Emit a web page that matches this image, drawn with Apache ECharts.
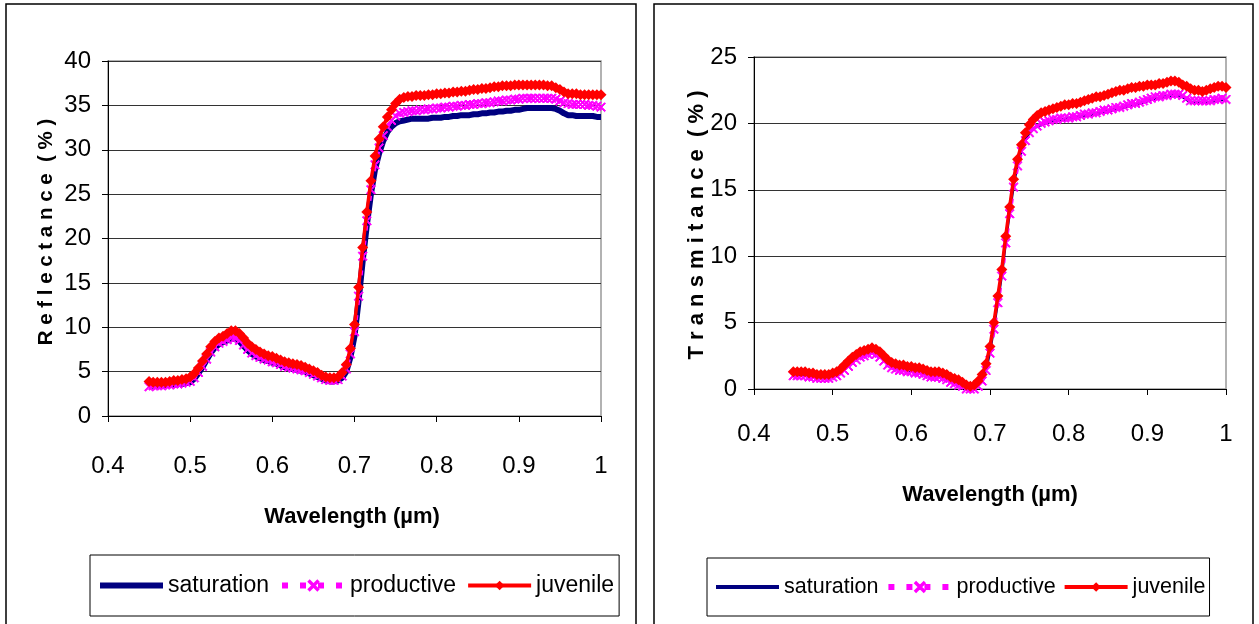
<!DOCTYPE html>
<html>
<head>
<meta charset="utf-8">
<script src="https://cdn.jsdelivr.net/npm/echarts@6/dist/echarts.min.js"></script>
<style>
html,body{margin:0;padding:0;background:#fff;}
#chart{width:1259px;height:624px;}
</style>
</head>
<body>
<div id="chart"></div>
<script>
// Wavelength samples (µm)
var wavelength = [
0.450,0.455,0.460,0.465,0.470,0.475,0.480,0.485,0.490,0.495,
0.500,0.505,0.510,0.515,0.520,0.525,0.530,0.535,0.540,0.545,
0.550,0.555,0.560,0.565,0.570,0.575,0.580,0.585,0.590,0.595,
0.600,0.605,0.610,0.615,0.620,0.625,0.630,0.635,0.640,0.645,
0.650,0.655,0.660,0.665,0.670,0.675,0.680,0.685,0.690,0.695,
0.700,0.705,0.710,0.715,0.720,0.725,0.730,0.735,0.740,0.745,
0.750,0.755,0.760,0.765,0.770,0.775,0.780,0.785,0.790,0.795,
0.800,0.805,0.810,0.815,0.820,0.825,0.830,0.835,0.840,0.845,
0.850,0.855,0.860,0.865,0.870,0.875,0.880,0.885,0.890,0.895,
0.900,0.905,0.910,0.915,0.920,0.925,0.930,0.935,0.940,0.945,
0.950,0.955,0.960,0.965,0.970,0.975,0.980,0.985,0.990,0.995,
1.000];

var seriesNames = ['saturation', 'productive', 'juvenile'];

// Reflectance (%)
var reflSaturation = [
3.4,3.4,3.4,3.4,3.5,3.5,3.5,3.6,3.6,3.7,
3.8,4.2,4.8,5.5,6.3,7.1,7.7,8.1,8.3,8.5,
8.7,8.7,8.4,7.9,7.4,7.0,6.7,6.5,6.3,6.2,
6.0,5.9,5.7,5.5,5.4,5.3,5.2,5.1,5.0,4.8,
4.6,4.4,4.2,4.0,3.9,3.9,4.0,4.3,5.0,6.6,
9.0,13.0,17.5,21.5,25.0,27.8,29.6,31.0,32.0,32.6,
33.0,33.2,33.3,33.4,33.5,33.5,33.5,33.5,33.5,33.6,
33.6,33.6,33.7,33.7,33.8,33.8,33.9,33.9,33.9,34.0,
34.0,34.1,34.1,34.2,34.2,34.3,34.3,34.4,34.4,34.5,
34.5,34.6,34.7,34.7,34.7,34.7,34.7,34.7,34.7,34.6,
34.4,34.1,33.9,33.9,33.8,33.8,33.8,33.8,33.8,33.7,
33.7];
var reflProductive = [
3.3,3.4,3.4,3.4,3.5,3.5,3.6,3.6,3.7,3.8,
3.9,4.3,4.9,5.6,6.4,7.2,7.8,8.2,8.4,8.6,
8.8,8.8,8.5,8.0,7.5,7.1,6.8,6.6,6.4,6.3,
6.1,6.0,5.8,5.6,5.5,5.4,5.3,5.2,5.1,4.9,
4.7,4.5,4.3,4.1,4.0,4.0,4.1,4.5,5.3,7.0,
9.5,13.5,18.0,22.0,25.5,28.3,30.2,31.6,32.6,33.3,
33.8,34.1,34.2,34.3,34.4,34.4,34.5,34.5,34.6,34.6,
34.7,34.7,34.8,34.8,34.9,34.9,35.0,35.0,35.1,35.1,
35.2,35.2,35.3,35.3,35.4,35.5,35.5,35.6,35.6,35.7,
35.7,35.8,35.8,35.8,35.8,35.8,35.8,35.8,35.8,35.7,
35.5,35.3,35.2,35.1,35.1,35.1,35.1,35.0,35.0,34.9,
34.8];
var reflJuvenile = [
3.9,3.8,3.8,3.8,3.8,3.9,4.0,4.0,4.1,4.2,
4.4,4.8,5.4,6.2,7.0,7.8,8.4,8.8,9.0,9.3,
9.6,9.6,9.3,8.8,8.2,7.8,7.5,7.2,7.0,6.8,
6.7,6.5,6.3,6.1,6.0,5.9,5.8,5.7,5.5,5.3,
5.1,4.9,4.6,4.4,4.3,4.3,4.4,4.9,5.8,7.6,
10.3,14.5,19.0,23.0,26.5,29.3,31.2,32.6,33.7,34.5,
35.2,35.7,35.9,36.0,36.0,36.1,36.1,36.1,36.2,36.2,
36.3,36.3,36.4,36.4,36.5,36.5,36.6,36.6,36.7,36.8,
36.8,36.9,36.9,37.0,37.1,37.1,37.2,37.2,37.2,37.3,
37.3,37.3,37.3,37.3,37.3,37.3,37.3,37.2,37.2,37.0,
36.8,36.5,36.3,36.3,36.3,36.2,36.2,36.2,36.2,36.2,
36.2];

// Transmitance (%)
var transSaturation = [
1.1,1.1,1.1,1.1,1.0,1.0,0.9,0.9,0.9,0.9,
1.0,1.1,1.3,1.5,1.8,2.1,2.3,2.5,2.6,2.7,
2.8,2.7,2.5,2.2,1.9,1.7,1.6,1.5,1.5,1.4,
1.4,1.3,1.3,1.2,1.1,1.0,1.0,1.0,0.9,0.8,
0.6,0.5,0.4,0.2,0.1,0.0,0.1,0.3,0.7,1.5,
2.9,4.7,6.7,8.7,11.2,13.4,15.4,17.0,18.0,18.8,
19.3,19.6,19.8,19.9,20.0,20.1,20.2,20.2,20.3,20.3,
20.4,20.4,20.5,20.5,20.6,20.6,20.7,20.7,20.8,20.9,
20.9,21.0,21.1,21.1,21.2,21.3,21.4,21.4,21.5,21.6,
21.7,21.8,21.9,21.9,22.0,22.0,22.1,22.1,22.1,22.0,
21.8,21.6,21.6,21.6,21.6,21.6,21.6,21.7,21.7,21.8,
21.7];
var transProductive = [
1.0,1.0,1.0,1.0,0.9,0.9,0.8,0.8,0.8,0.8,
0.9,1.0,1.2,1.4,1.7,2.0,2.2,2.4,2.5,2.6,
2.7,2.6,2.4,2.1,1.8,1.6,1.5,1.4,1.4,1.3,
1.3,1.2,1.2,1.1,1.0,0.9,0.9,0.9,0.8,0.7,
0.5,0.4,0.3,0.2,0.0,0.0,0.0,0.2,0.6,1.4,
2.7,4.5,6.5,8.5,11.0,13.2,15.2,16.8,17.9,18.7,
19.3,19.6,19.8,20.0,20.1,20.2,20.3,20.3,20.4,20.4,
20.4,20.5,20.5,20.6,20.7,20.7,20.8,20.8,20.9,21.0,
21.0,21.1,21.2,21.2,21.3,21.4,21.5,21.5,21.6,21.7,
21.8,21.9,22.0,22.0,22.1,22.1,22.2,22.2,22.2,22.1,
21.9,21.7,21.7,21.7,21.7,21.7,21.7,21.8,21.8,21.9,
21.8];
var transJuvenile = [
1.3,1.3,1.3,1.3,1.2,1.2,1.1,1.1,1.1,1.1,
1.2,1.3,1.5,1.8,2.1,2.4,2.6,2.8,2.9,3.0,
3.1,3.0,2.8,2.5,2.2,2.0,1.9,1.8,1.8,1.7,
1.7,1.6,1.6,1.5,1.4,1.3,1.3,1.3,1.2,1.1,
0.9,0.8,0.7,0.5,0.3,0.2,0.3,0.6,1.1,1.9,
3.2,5.0,7.0,9.0,11.5,13.7,15.8,17.3,18.4,19.3,
19.9,20.3,20.6,20.8,20.9,21.0,21.1,21.2,21.3,21.4,
21.4,21.5,21.5,21.6,21.7,21.8,21.9,22.0,22.0,22.1,
22.2,22.3,22.4,22.5,22.5,22.6,22.7,22.7,22.8,22.8,
22.9,22.9,22.9,23.0,23.0,23.1,23.2,23.2,23.1,22.9,
22.8,22.6,22.5,22.5,22.4,22.5,22.6,22.7,22.8,22.8,
22.7];

var xTicks = [0.4, 0.5, 0.6, 0.7, 0.8, 0.9, 1];
var reflTicks = [0, 5, 10, 15, 20, 25, 30, 35, 40];
var transTicks = [0, 5, 10, 15, 20, 25];

var FONT = '"Liberation Sans", Arial, sans-serif';
var xMarker = 'path://M0,1L1,0L5,4L9,0L10,1L6,5L10,9L9,10L5,6L1,10L0,9L4,5Z';

function pairs(vals){ return wavelength.map(function(w,i){ return [w, vals[i]]; }); }

function makeSeries(idx, sat, prod, juv, satWidth){
  return [
    { name: seriesNames[0], type:'line', xAxisIndex:idx, yAxisIndex:idx, data:pairs(sat),
      symbol:'none', color:'#000080', lineStyle:{color:'#000080', width:satWidth}, z:2 },
    { name: seriesNames[1], type:'line', xAxisIndex:idx, yAxisIndex:idx, data:pairs(prod),
      symbol:xMarker, symbolSize:9, showSymbol:true, showAllSymbol:true, color:'#FF00FF',
      itemStyle:{color:'#FF00FF', borderColor:'#FF00FF', borderWidth:1},
      lineStyle:{color:'#FF00FF', width:4, type:[5,10]}, z:3 },
    { name: seriesNames[2], type:'line', xAxisIndex:idx, yAxisIndex:idx, data:pairs(juv),
      symbol:'diamond', symbolSize:11, showSymbol:true, showAllSymbol:true, color:'#FF0000',
      itemStyle:{color:'#FF0000'}, lineStyle:{color:'#FF0000', width:3.5}, z:4 }
  ];
}

function xAxisCfg(idx, margin){
  return { type:'value', gridIndex:idx, min:xTicks[0], max:xTicks[xTicks.length-1], interval:0.1,
    axisLine:{show:true, onZero:false, lineStyle:{color:'#000', width:1}},
    axisTick:{show:true, inside:false, length:6, lineStyle:{color:'#000'}},
    axisLabel:{margin:margin, color:'#000', fontFamily:FONT, fontSize:24,
      formatter:function(v){ return String(Math.round(v*10)/10); }},
    splitLine:{show:false} };
}
function yAxisCfg(idx, ticks){
  return { type:'value', gridIndex:idx, min:ticks[0], max:ticks[ticks.length-1], interval:5,
    axisLine:{show:true, lineStyle:{color:'#000', width:1}},
    axisTick:{show:true, inside:false, length:6, lineStyle:{color:'#000'}},
    axisLabel:{margin:17, color:'#000', fontFamily:FONT, fontSize:24},
    splitLine:{show:true, lineStyle:{color:'#333', width:1}} };
}

function legendData(satW){
  return [
    {name:seriesNames[0], itemStyle:{opacity:0}, lineStyle:{width:satW}},
    {name:seriesNames[1], lineStyle:{width:6, type:[6,12]}},
    {name:seriesNames[2], lineStyle:{width:4}}
  ];
}

var chart = echarts.init(document.getElementById('chart'), null, {renderer:'canvas'});
var option = {
  backgroundColor:'#ffffff',
  animation:false,
  grid:[
    {left:108, top:61, width:493, height:355, show:true, borderColor:'#999', borderWidth:1.5, backgroundColor:'transparent'},
    {left:754, top:57, width:472, height:332, show:true, borderColor:'#999', borderWidth:1.5, backgroundColor:'transparent'}
  ],
  xAxis:[ xAxisCfg(0, 38), xAxisCfg(1, 33) ],
  yAxis:[ yAxisCfg(0, reflTicks), yAxisCfg(1, transTicks) ],
  legend:[
    { data:legendData(6), left:90, top:555, width:600, orient:'horizontal', itemWidth:63, itemHeight:12, itemGap:10,
      padding:[16,5,16,7], borderColor:'#000', borderWidth:1, backgroundColor:'#fff',
      textStyle:{fontFamily:FONT, fontSize:23, lineHeight:29, color:'#000'},
      selectedMode:false },
    { data:legendData(4), left:707, top:558, width:560, orient:'horizontal', itemWidth:63, itemHeight:12, itemGap:7,
      padding:[15,4,15,7], borderColor:'#000', borderWidth:1, backgroundColor:'#fff',
      textStyle:{fontFamily:FONT, fontSize:21.5, lineHeight:28, color:'#000'},
      selectedMode:false }
  ],
  series: makeSeries(0, reflSaturation, reflProductive, reflJuvenile, 6)
    .concat(makeSeries(1, transSaturation, transProductive, transJuvenile, 3)),
  graphic:[
    {type:'rect', shape:{x:6, y:4, width:630, height:660}, style:{fill:'none', stroke:'#000', lineWidth:1.5}, silent:true},
    {type:'rect', shape:{x:654, y:4, width:599, height:660}, style:{fill:'none', stroke:'#000', lineWidth:1.5}, silent:true},
    {type:'text', x:46, y:232, rotation:Math.PI/2,
      style:{text:'R e f l e c t a n c e  ( % )', font:'bold 20.5px ' + FONT, fill:'#000', align:'center', verticalAlign:'middle'}},
    {type:'text', x:697, y:225, rotation:Math.PI/2,
      style:{text:'T r a n s m i t a n c e  ( % )', font:'bold 22px ' + FONT, fill:'#000', align:'center', verticalAlign:'middle'}},
    {type:'text', x:352, y:517,
      style:{text:'Wavelength (µm)', font:'bold 22px ' + FONT, fill:'#000', align:'center', verticalAlign:'middle'}},
    {type:'text', x:990, y:495,
      style:{text:'Wavelength (µm)', font:'bold 22px ' + FONT, fill:'#000', align:'center', verticalAlign:'middle'}}
  ]
};
chart.setOption(option);
</script>
</body>
</html>
